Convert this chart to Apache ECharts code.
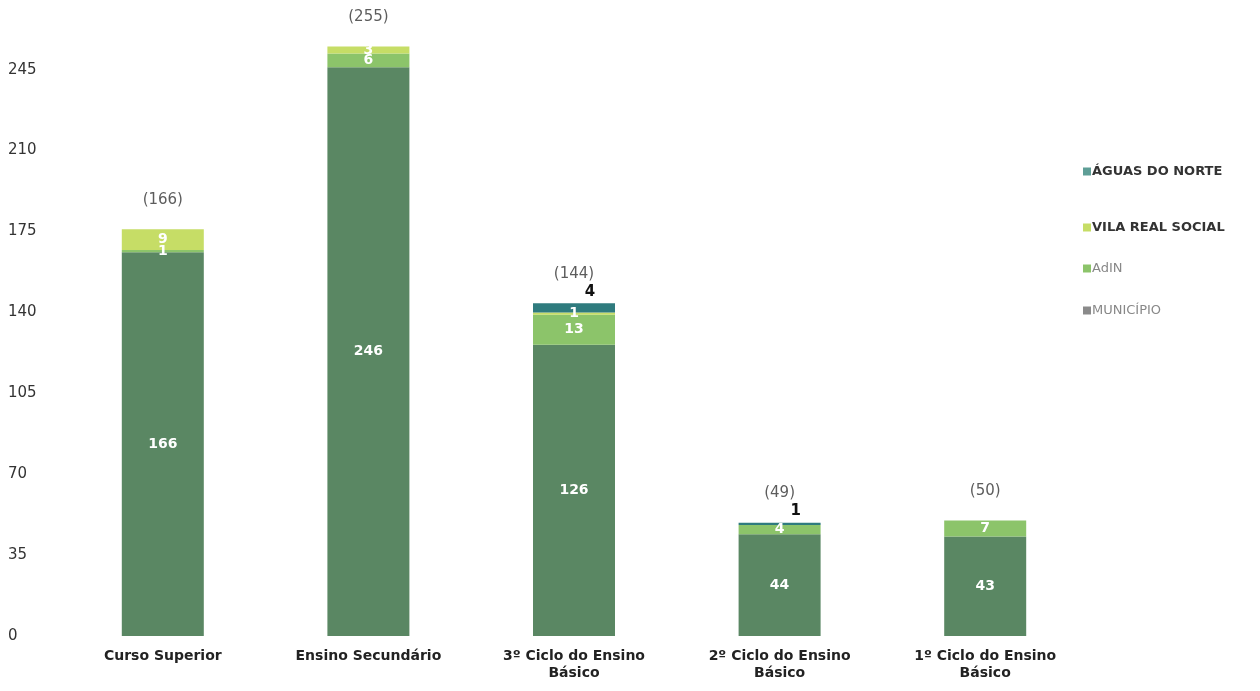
<!DOCTYPE html>
<html lang="pt">
<head>
    <meta charset="UTF-8">
    <title>Habilitações</title>
    <script src="https://cdn.jsdelivr.net/npm/echarts@6/dist/echarts.min.js"></script>
    <style>
        html, body { margin: 0; padding: 0; background: #fff; }
        #chart { width: 1260px; height: 691px; }
    </style>
</head>
<body>
<div id="chart"></div>
<script>
    // dados
    const categories = ['Curso Superior', 'Ensino Secundário', '3º Ciclo do Ensino\nBásico', '2º Ciclo do Ensino\nBásico', '1º Ciclo do Ensino\nBásico'];
    const municipio = [166, 246, 126, 44, 43];
    const adin = [1, 6, 13, 4, 7];
    const vilaReal = [9, 3, 1, null, null];
    const aguas = [null, null, 4, 1, null];
    const totals = [166, 255, 144, 49, 50];
    const yTicks = [0, 35, 70, 105, 140, 175, 210, 245];

    const font = '"DejaVu Sans", Verdana, sans-serif';
    const stackTop = municipio.map((v, i) => v + (adin[i] || 0) + (vilaReal[i] || 0) + (aguas[i] || 0));

    const inLabel = {
        show: true, position: 'inside', color: '#fff', fontWeight: 'bold',
        fontSize: 14, fontFamily: font,
        formatter: p => p.value == null ? '' : p.value
    };

    // legenda: um bloco por item (espaçamento irregular no original)
    const legendItems = [
        {name: 'ÁGUAS DO NORTE', icon: '#5e9e96', text: '#333', bold: true, top: 160},
        {name: 'VILA REAL SOCIAL', icon: '#c6dd66', text: '#333', bold: true, top: 216},
        {name: 'AdIN', icon: '#8cc46a', text: '#888', bold: false, top: 257},
        {name: 'MUNICÍPIO', icon: '#8a8a8a', text: '#888', bold: false, top: 299}
    ];

    var chart = echarts.init(document.getElementById('chart'));
    chart.setOption({
        animation: false,
        textStyle: {fontFamily: font},
        grid: {left: 60, right: 172, top: 35, bottom: 55},
        legend: legendItems.map(it => ({
            orient: 'vertical',
            left: 1078,
            top: it.top,
            itemWidth: 8,
            itemHeight: 8,
            icon: 'rect',
            textStyle: {fontSize: 13, fontFamily: font, padding: [0, 0, 0, -4],
                color: it.text, fontWeight: it.bold ? 'bold' : 'normal'},
            data: [{name: it.name, itemStyle: {color: it.icon}}]
        })),
        xAxis: {
            type: 'category',
            data: categories,
            axisLine: {show: false},
            axisTick: {show: false},
            axisLabel: {color: '#222', fontSize: 14, fontWeight: 'bold', fontFamily: font, margin: 12, lineHeight: 17, interval: 0}
        },
        yAxis: {
            type: 'value',
            min: 0,
            max: 260,
            interval: 35,
            splitLine: {show: false},
            axisLine: {show: false},
            axisTick: {show: false},
            axisLabel: {
                color: '#333', fontSize: 15, fontFamily: font, align: 'left', margin: 52,
                showMaxLabel: false,
                formatter: v => yTicks.includes(v) ? v : ''
            }
        },
        series: [
            {
                name: 'MUNICÍPIO', type: 'bar', stack: 'a', barWidth: 82,
                itemStyle: {color: '#5a8763'},
                label: inLabel,
                data: municipio
            },
            {
                name: 'AdIN', type: 'bar', stack: 'a',
                itemStyle: {color: '#8cc46a'},
                label: inLabel,
                data: adin
            },
            {
                name: 'VILA REAL SOCIAL', type: 'bar', stack: 'a',
                itemStyle: {color: '#c6dd66'},
                label: inLabel,
                data: vilaReal
            },
            {
                name: 'ÁGUAS DO NORTE', type: 'bar', stack: 'a',
                itemStyle: {color: '#2f7b7e'},
                label: {
                    show: true, position: 'top', color: '#111', fontWeight: 'bold',
                    fontSize: 15, fontFamily: font, offset: [16, 1],
                    formatter: p => p.value == null ? '' : p.value
                },
                data: aguas
            },
            {
                name: 'total', type: 'scatter', symbolSize: 0,
                label: {
                    show: true, position: 'top', distance: 22, color: '#333',
                    fontSize: 15, fontFamily: font,
                    formatter: p => '(' + totals[p.dataIndex] + ')'
                },
                data: stackTop
            }
        ]
    });
</script>
</body>
</html>
